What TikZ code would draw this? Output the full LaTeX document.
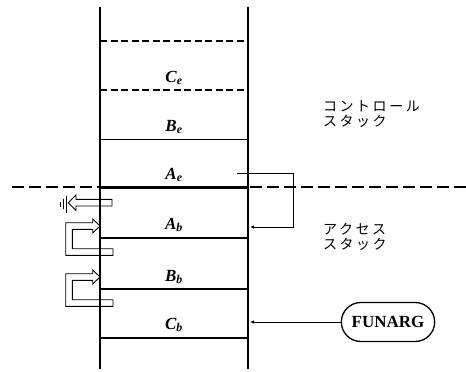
\documentclass[tikz,border=0pt]{standalone}
\usepackage{fontspec}
\setmainfont{Liberation Serif}
\newfontfamily\jpfont{Noto Sans CJK JP}[LetterSpace=18]
\usetikzlibrary{arrows.meta, positioning, shapes.misc}
\tikzset{
    % Stack frame
    wall/.style={line width=2pt},
    slot/.style={line width=1.6pt},
    thinslot/.style={line width=0.9pt},
    slotdash/.style={line width=1.1pt, dash pattern=on 7pt off 3.5pt},
    seam/.style={line width=3pt},
    divider/.style={line width=1.2pt, dash pattern=on 12pt off 5pt},
    % Labels
    slotlbl/.style={anchor=base, inner sep=0pt,
                font=\fontsize{17}{20}\selectfont\bfseries\itshape},
    jplbl/.style={anchor=north west, align=left, inner sep=0pt,
                font=\fontsize{14}{15}\selectfont\jpfont},
    funbox/.style={rounded rectangle, draw, line width=1.3pt,
                minimum width=100pt, minimum height=39pt,
                font=\fontsize{17}{20}\selectfont\bfseries},
    % Links
    linkarrow/.style={-{Latex[length=4pt, width=3.5pt]}, line width=1pt},
    hollow/.style={line width=0.9pt, line join=miter},
    earth/.style={line width=1pt},
}
\newcommand{\slotname}[2]{#1\textsubscript{#2}}

\begin{document}
\begin{tikzpicture}[x=1pt, y=-1pt]
\useasboundingbox (0,0) rectangle (466,372);

% stack walls
\coordinate (lt) at (100,7);
\coordinate (lb) at (100,369);
\coordinate (rt) at (248,7);
\coordinate (rb) at (248,369);
\draw[wall] (lt) -- (lb);
\draw[wall] (rt) -- (rb);

% slot boundaries
\draw[slotdash] (100,41) -- (248,41);
\draw[slotdash] (100,90) -- (248,90);
\draw[thinslot] (100,139) -- (248,139);
\draw[seam] (100,187) -- (248,187);
\foreach \y in {238,289,338}
    \draw[slot] (100,\y) -- (248,\y);
\draw[divider] (12,187) -- (466,187);

% slot names
\node[slotlbl] (ce) at (174,82)  {\slotname{C}{e}};
\node[slotlbl] (be) at (174,131) {\slotname{B}{e}};
\node[slotlbl] (ae) at (174,179) {\slotname{A}{e}};
\node[slotlbl] (ab) at (174,229) {\slotname{A}{b}};
\node[slotlbl] (bb) at (174,281) {\slotname{B}{b}};
\node[slotlbl] (cb) at (174,329) {\slotname{C}{b}};

\node[jplbl] (ctl) at (323,100) {コントロール\\スタック};
\node[jplbl] (acc) at (323,223) {アクセス\\スタック};

% control link back into the access part
\coordinate (aeout) at (237,173);
\coordinate (abin) at (250,227);
\draw[linkarrow] (aeout) -- ++(56,0) |- (abin);

% funarg pointer
\node[funbox] (funarg) at (388,322) {FUNARG};
\coordinate (cbin) at (250,322);
\draw[linkarrow] (funarg) -- (cbin);

% access links (hollow)
\foreach \dy in {0,51}
    \draw[hollow, shift={(0,\dy)}] (113,248.7) -- (72.3,248.7) -- (72.3,229.3)
        -- (92.7,229.3) -- (92.7,233) -- (100,226) -- (92.7,219) -- (92.7,222.7)
        -- (65.7,222.7) -- (65.7,255.3) -- (113,255.3) -- cycle;
\draw[hollow] (112,199.4) -- (76,199.4) -- (76,195) -- (68.3,202.7)
    -- (76,210.4) -- (76,206) -- (112,206) -- cycle;
\draw[earth] (66.5,196) -- (66.5,213);
\draw[earth] (63.3,199) -- (63.3,209);
\draw[earth] (60.7,201.5) -- (60.7,206.5);
\end{tikzpicture}
\end{document}
